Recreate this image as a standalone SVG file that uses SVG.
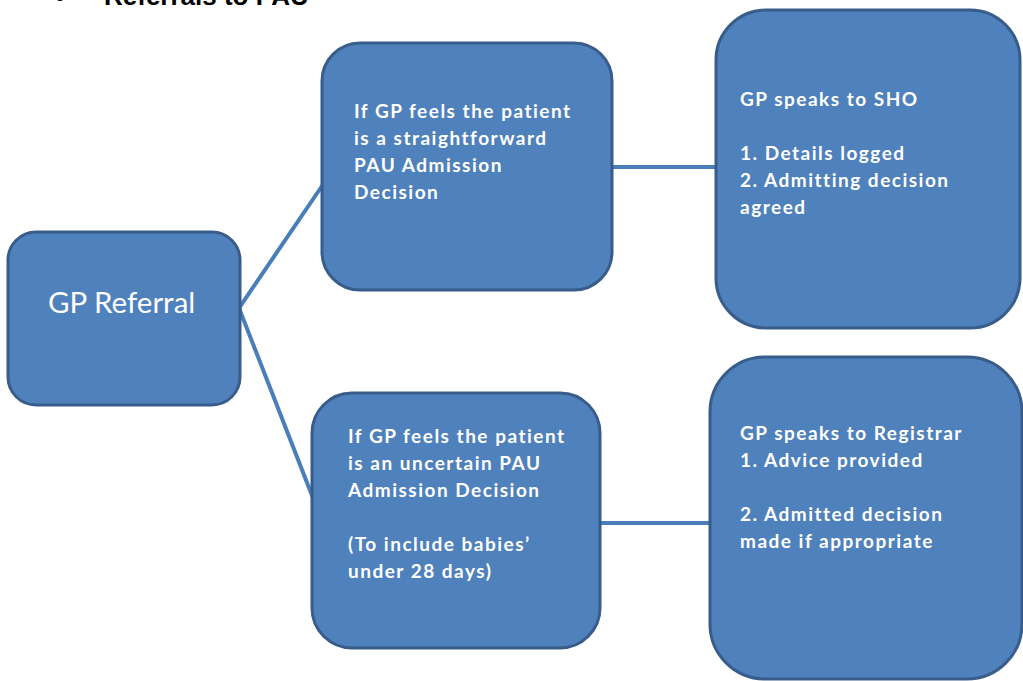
<svg xmlns="http://www.w3.org/2000/svg" width="1023" height="681" viewBox="0 0 1023 681">
<style>
.box{fill:#4F81BD;stroke:#385D8A;stroke-width:3}
.conn{stroke:#4A7EBB;stroke-width:4;fill:none;stroke-linecap:round}
.t{font-family:Lato,"Open Sans","Liberation Sans",sans-serif;font-weight:bold;font-size:19px;letter-spacing:1.5px;fill:#FFFFFF}
.big{font-family:Lato,"Open Sans","Liberation Sans",sans-serif;font-size:29.5px;fill:#FFFFFF}
.title{font-family:"Liberation Sans",Arial,sans-serif;font-weight:bold;font-size:26px;fill:#000000}
</style>
<rect width="1023" height="681" fill="#FFFFFF"/>
<g id="title">
<circle cx="60" cy="-3" r="4" fill="#000000"/>
<text class="title" x="104" y="5">Referrals to PAU</text>
</g>
<g id="connectors">
<line class="conn" x1="239" y1="308" x2="322" y2="186"/>
<line class="conn" x1="239" y1="308" x2="313" y2="498"/>
<line class="conn" x1="612" y1="167" x2="716" y2="167"/>
<line class="conn" x1="600" y1="523" x2="710" y2="523"/>
</g>
<g id="gp-referral">
<rect class="box" x="8" y="232" width="232" height="173" rx="28" ry="28"/>
<text class="big" x="48" y="313">GP Referral</text>
</g>
<g id="straightforward">
<rect class="box" x="322" y="43" width="290" height="247" rx="38" ry="38"/>
<text class="t" x="354" y="118">If GP feels the patient</text>
<text class="t" x="354" y="145">is a straightforward</text>
<text class="t" x="354" y="172">PAU Admission</text>
<text class="t" x="354" y="199">Decision</text>
</g>
<g id="sho">
<rect class="box" x="716" y="10" width="304" height="318" rx="50" ry="50"/>
<text class="t" x="740" y="106">GP speaks to SHO</text>
<text class="t" x="740" y="160">1. Details logged</text>
<text class="t" x="740" y="187">2. Admitting decision</text>
<text class="t" x="740" y="214">agreed</text>
</g>
<g id="uncertain">
<rect class="box" x="312" y="393" width="288" height="255" rx="40" ry="40"/>
<text class="t" x="348" y="443">If GP feels the patient</text>
<text class="t" x="348" y="470">is an uncertain PAU</text>
<text class="t" x="348" y="497">Admission Decision</text>
<text class="t" x="348" y="551">(To include babies’</text>
<text class="t" x="348" y="578">under 28 days)</text>
</g>
<g id="registrar">
<rect class="box" x="710" y="357" width="312" height="322" rx="55" ry="55"/>
<text class="t" x="740" y="440">GP speaks to Registrar</text>
<text class="t" x="740" y="467">1. Advice provided</text>
<text class="t" x="740" y="521">2. Admitted decision</text>
<text class="t" x="740" y="548">made if appropriate</text>
</g>
</svg>
